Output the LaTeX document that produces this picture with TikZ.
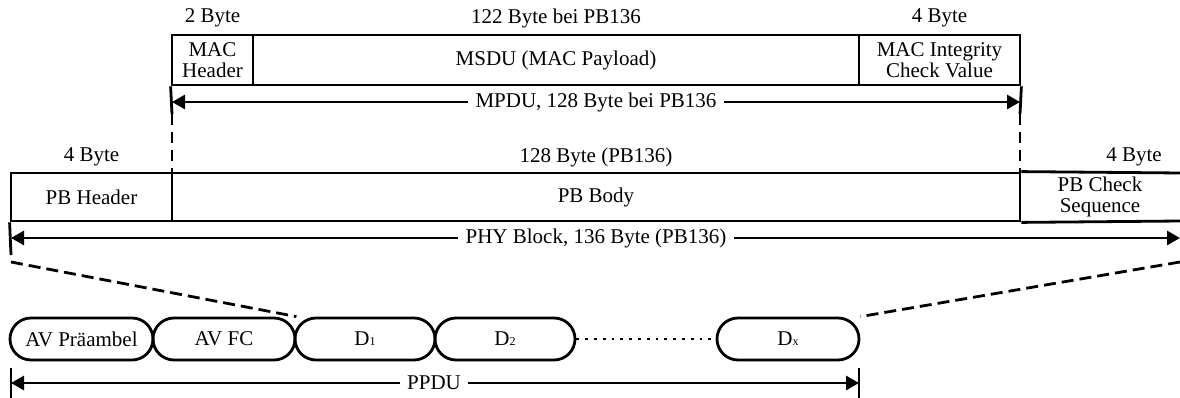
\documentclass[tikz,border=0pt]{standalone}
\usepackage{fontspec}
\setmainfont{Liberation Serif}
\usetikzlibrary{arrows.meta,shapes.misc}
\begin{document}
\begin{tikzpicture}[x=1pt,y=-1pt,line width=2.8pt,
  every node/.style={font=\fontsize{21}{21}\selectfont, inner sep=0pt, align=center},
  field/.style={draw, minimum height=#1, anchor=center},
  seg/.style={draw, rounded rectangle, minimum height=42, anchor=center},
  dim/.style={-{Triangle[length=13pt,width=14pt]}},
  slant/.style={dash pattern=on 12pt off 6pt},
  vdash/.style={dash pattern=on 11pt off 7pt}]
\useasboundingbox (0,0) rectangle (1180,398);
% ---- MPDU row
\node[field=50, minimum width=81] (mach) at (212.5,60) {MAC\\Header};
\node[field=50, minimum width=606] (msdu) at (556,60) {MSDU (MAC Payload)};
\node[field=50, minimum width=161] (icv) at (939.5,60) {MAC Integrity\\Check Value};
\node (l1) at (212.5,18) {2 Byte};
\node (l2) at (556,18) {122 Byte bei PB136};
\node (l3) at (939.5,18) {4 Byte};
\node[fill=white, inner xsep=6pt] (mpdu) at (596,102) {MPDU, 128 Byte bei PB136};
\coordinate (mpduL) at (172,102);
\coordinate (mpduR) at (1020,102);
\draw[dim] (mpdu.west) -- (mpduL);
\draw[dim] (mpdu.east) -- (mpduR);
\draw (mach.south west) -- (172,114);
\draw (icv.south east) -- (1020,114);
\coordinate (pbL) at (172,173);
\coordinate (pbR) at (1020,173);
\draw[vdash] (172,114) -- (pbL);
\draw[vdash] (1020,114) -- (pbR);
% ---- PHY block row
\node[field=48, minimum width=161] (pbh) at (91.5,197) {PB Header};
\node[field=48, minimum width=848] (pbb) at (596,197) {PB Body};
\node (pbc) at (1100,197) {PB Check\\Sequence};
\coordinate (edgeT) at (1181,173);
\coordinate (edgeB) at (1181,221);
\draw (pbb.north east) -- (edgeT);
\draw (pbb.south east) -- (edgeB);
\node (m1) at (91.5,157) {4 Byte};
\node (m2) at (596,157) {128 Byte (PB136)};
\node (m3) at (1134,157) {4 Byte};
\node[fill=white, inner xsep=6pt] (phy) at (596,238) {PHY Block, 136 Byte (PB136)};
\coordinate (phyL) at (11,238);
\coordinate (phyR) at (1180,238);
\draw[dim] (phy.west) -- (phyL);
\draw[dim] (phy.east) -- (phyR);
\draw (pbh.south west) -- (11,255);
% ---- PPDU row
\node[seg, minimum width=143] (pre) at (81.5,339) {AV Präambel};
\node[seg, minimum width=142] (fc) at (224,339) {AV FC};
\node[seg, minimum width=140] (d1) at (365,339) {D{\fontsize{12}{12}\selectfont 1}};
\node[seg, minimum width=140] (d2) at (505,339) {D{\fontsize{12}{12}\selectfont 2}};
\node[seg, minimum width=142] (dx) at (788,339) {D{\fontsize{12}{12}\selectfont x}};
\draw[line width=2.8pt, dash pattern=on 2.8pt off 6pt] (d2.east) -- (dx.west);
\coordinate (fcTop) at (fc.east |- fc.north);
\coordinate (dxTop) at (dx.east |- dx.north);
\coordinate (tlL) at (11,262);
\coordinate (tlR) at (1180,262);
\draw[slant] (tlL) -- (fcTop);
\draw[slant] (tlR) -- (dxTop);
\node[fill=white, inner xsep=6pt] (ppdu) at (434,383) {PPDU};
\coordinate (ppL) at (11,383);
\coordinate (ppR) at (859,383);
\draw[dim] (ppdu.west) -- (ppL);
\draw[dim] (ppdu.east) -- (ppR);
\draw (11,368) -- (11,398);
\draw (859,368) -- (859,398);
\end{tikzpicture}
\end{document}
